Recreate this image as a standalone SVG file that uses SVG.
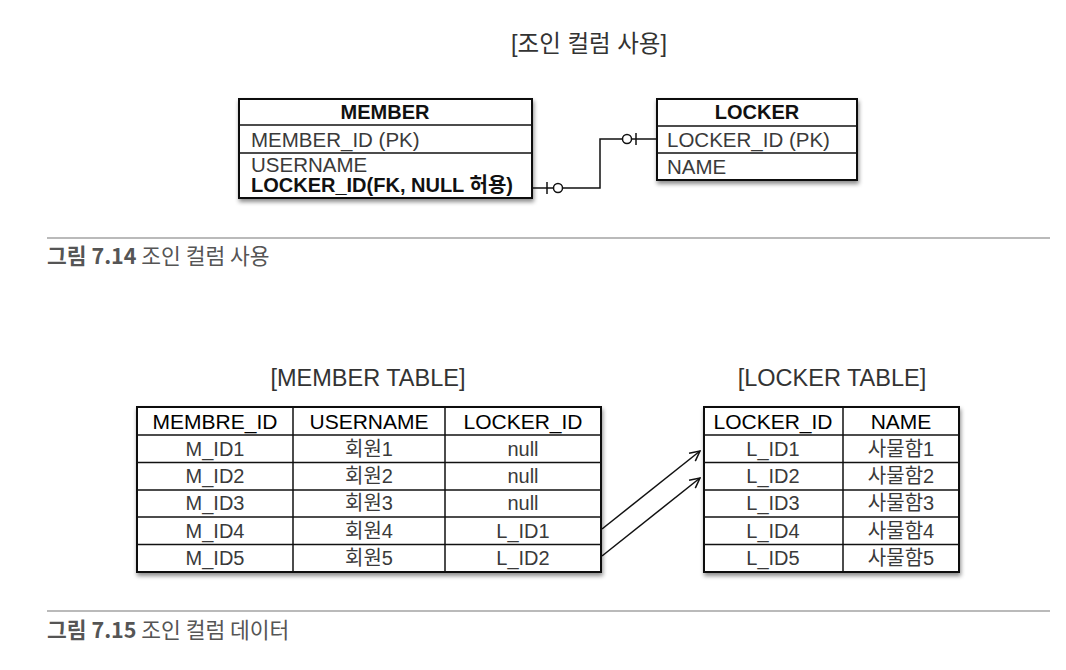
<svg xmlns="http://www.w3.org/2000/svg" width="1066" height="670" viewBox="0 0 1066 670">
<style>
.t{font-family:"Liberation Sans","Noto Sans CJK KR",sans-serif;fill:#3a3a3a;font-size:20px}
.e{font-family:"Liberation Sans","Noto Sans CJK KR",sans-serif;fill:#3a3a3a;font-size:20.5px}
.b{font-family:"Liberation Sans","Noto Sans CJK KR",sans-serif;fill:#111;font-size:20px;font-weight:bold}
.h{font-family:"Liberation Sans","Noto Sans CJK KR",sans-serif;fill:#000;font-size:21px}
.ttl{font-family:"Liberation Sans","Noto Sans CJK KR",sans-serif;fill:#333;font-size:23.5px}
.cap{font-family:"Noto Sans CJK KR","Liberation Sans",sans-serif;fill:#555;font-size:21.5px}
.box{fill:#fff;stroke:#111;stroke-width:2}
.ln{stroke:#111;stroke-width:1.5;fill:none}
.sep{stroke:#777;stroke-width:1.2}
.c{text-anchor:middle}
</style>
<defs>
<filter id="sh" x="-5%" y="-5%" width="115%" height="125%">
<feDropShadow dx="1" dy="3" stdDeviation="2" flood-color="#000" flood-opacity="0.45"/>
</filter>
<marker id="ah" viewBox="0 0 12 12" refX="11" refY="6" markerWidth="12" markerHeight="12" markerUnits="userSpaceOnUse" orient="auto">
<path d="M1,1 L11,6 L1,11" fill="none" stroke="#111" stroke-width="1.5"/>
</marker>
</defs>
<rect width="1066" height="670" fill="#fff"/>

<text class="ttl c" x="589" y="52">[조인 컬럼 사용]</text>

<g id="member">
<rect class="box" x="239" y="99" width="293" height="99" filter="url(#sh)"/>
<line class="ln" x1="239" y1="125" x2="532" y2="125"/>
<line class="ln" x1="239" y1="153" x2="532" y2="153"/>
<text class="b c" x="385" y="119">MEMBER</text>
<text class="e" x="251" y="147">MEMBER_ID (PK)</text>
<text class="e" x="251" y="172">USERNAME</text>
<text class="b" x="251" y="192">LOCKER_ID(FK, NULL 허용)</text>
</g>

<g id="locker">
<rect class="box" x="657" y="99" width="200" height="81" filter="url(#sh)"/>
<line class="ln" x1="657" y1="126" x2="857" y2="126"/>
<line class="ln" x1="657" y1="153" x2="857" y2="153"/>
<text class="b c" x="757" y="119">LOCKER</text>
<text class="e" x="667" y="147">LOCKER_ID (PK)</text>
<text class="e" x="667" y="174">NAME</text>
</g>

<g id="connectors">
<polyline class="ln" points="532,188 554,188"/>
<line class="ln" x1="547" y1="182" x2="547" y2="194"/>
<circle class="ln" cx="558" cy="188" r="4.5" fill="#fff"/>
<polyline class="ln" points="562.5,188 600,188 600,139 622.5,139"/>
<circle class="ln" cx="627" cy="139" r="4.5" fill="#fff"/>
<line class="ln" x1="631.5" y1="139" x2="657" y2="139"/>
<line class="ln" x1="636" y1="133" x2="636" y2="145"/>
<line class="ln" x1="602" y1="529" x2="700" y2="451" marker-end="url(#ah)"/>
<line class="ln" x1="602" y1="556" x2="700" y2="478" marker-end="url(#ah)"/>
</g>

<line class="sep" x1="47" y1="238" x2="1050" y2="238"/>
<text class="cap" x="47" y="264"><tspan font-weight="bold">그림 7.14</tspan> 조인 컬럼 사용</text>

<text class="ttl c" x="368" y="386">[MEMBER TABLE]</text>
<text class="ttl c" x="832" y="386">[LOCKER TABLE]</text>

<g id="member-table">
<rect class="box" x="137" y="407" width="464" height="165" filter="url(#sh)"/>
<line class="ln" x1="137" y1="435" x2="601" y2="435"/>
<line class="ln" x1="137" y1="462.5" x2="601" y2="462.5"/>
<line class="ln" x1="137" y1="490" x2="601" y2="490"/>
<line class="ln" x1="137" y1="517" x2="601" y2="517"/>
<line class="ln" x1="137" y1="544.5" x2="601" y2="544.5"/>
<line class="ln" x1="293" y1="407" x2="293" y2="572"/>
<line class="ln" x1="445" y1="407" x2="445" y2="572"/>
<text class="h c" x="215" y="429">MEMBRE_ID</text>
<text class="h c" x="369" y="429">USERNAME</text>
<text class="h c" x="523" y="429">LOCKER_ID</text>
<text class="t c" x="215" y="456">M_ID1</text>
<text class="t c" x="215" y="483">M_ID2</text>
<text class="t c" x="215" y="510">M_ID3</text>
<text class="t c" x="215" y="538">M_ID4</text>
<text class="t c" x="215" y="565">M_ID5</text>
<text class="t c" x="369" y="456">회원1</text>
<text class="t c" x="369" y="483">회원2</text>
<text class="t c" x="369" y="510">회원3</text>
<text class="t c" x="369" y="538">회원4</text>
<text class="t c" x="369" y="565">회원5</text>
<text class="t c" x="523" y="456">null</text>
<text class="t c" x="523" y="483">null</text>
<text class="t c" x="523" y="510">null</text>
<text class="t c" x="523" y="538">L_ID1</text>
<text class="t c" x="523" y="565">L_ID2</text>
</g>

<g id="locker-table">
<rect class="box" x="704" y="407" width="255" height="165" filter="url(#sh)"/>
<line class="ln" x1="704" y1="435" x2="959" y2="435"/>
<line class="ln" x1="704" y1="462.5" x2="959" y2="462.5"/>
<line class="ln" x1="704" y1="490" x2="959" y2="490"/>
<line class="ln" x1="704" y1="517" x2="959" y2="517"/>
<line class="ln" x1="704" y1="544.5" x2="959" y2="544.5"/>
<line class="ln" x1="843" y1="407" x2="843" y2="572"/>
<text class="h c" x="773" y="429">LOCKER_ID</text>
<text class="h c" x="901" y="429">NAME</text>
<text class="t c" x="773" y="456">L_ID1</text>
<text class="t c" x="773" y="483">L_ID2</text>
<text class="t c" x="773" y="510">L_ID3</text>
<text class="t c" x="773" y="538">L_ID4</text>
<text class="t c" x="773" y="565">L_ID5</text>
<text class="t c" x="901" y="456">사물함1</text>
<text class="t c" x="901" y="483">사물함2</text>
<text class="t c" x="901" y="510">사물함3</text>
<text class="t c" x="901" y="538">사물함4</text>
<text class="t c" x="901" y="565">사물함5</text>
</g>

<line class="sep" x1="47" y1="611" x2="1050" y2="611"/>
<text class="cap" x="47" y="638"><tspan font-weight="bold">그림 7.15</tspan> 조인 컬럼 데이터</text>
</svg>
